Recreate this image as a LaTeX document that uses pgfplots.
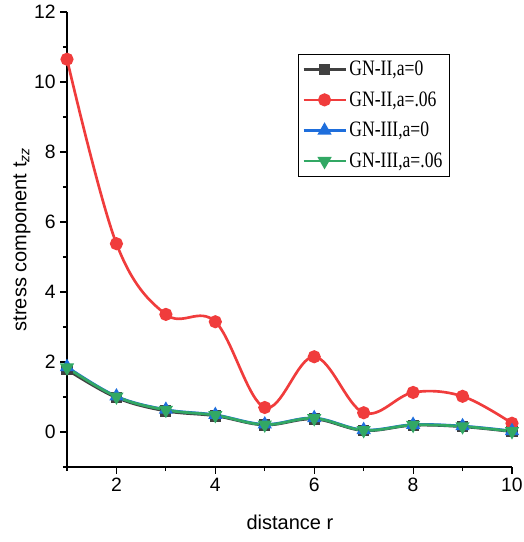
\documentclass[border=0pt]{standalone}
\usepackage{pgfplots}
\pgfplotsset{compat=1.18}
\usepackage{fontspec}
\setmainfont{Liberation Sans}
\newfontfamily\serifleg[FakeStretch=0.8]{Liberation Serif}
\definecolor{cblack}{RGB}{64,64,64}
\definecolor{cred}{RGB}{240,60,60}
\definecolor{cblue}{RGB}{30,110,220}
\definecolor{cgreen}{RGB}{50,168,100}
\begin{document}
\begin{tikzpicture}
\begin{axis}[
  scale only axis,
  width=333.75pt, height=341.25pt,
  xmin=1, xmax=10, ymin=-1, ymax=12,
  axis x line=bottom, axis y line=left,
  axis line style={-, line width=0.8pt},
  xtick={2,4,6,8,10}, minor xtick={1,3,5,7,9},
  ytick={0,2,4,6,8,10,12}, minor ytick={-1,1,3,5,7,9,11},
  tick align=outside,
  major tick length=5pt, minor tick length=3pt,
  tick style={black, line width=0.8pt},
  /pgf/number format/assume math mode=true,
  ticklabel style={font=\fontsize{14.5}{16}\selectfont},
  xlabel={distance r},
  ylabel={stress component t\textsubscript{\textit{zz}}},
  label style={font=\fontsize{15}{17}\selectfont},
  xlabel style={at={(axis description cs:0.501,-0.121)}, anchor=center},
  ylabel style={at={(axis description cs:-0.101,0.5)}, anchor=center},
  clip=false,
  legend style={at={(0.519,0.908)}, anchor=north west, draw=black, line width=0.6pt,
    font=\serifleg\fontsize{16.5}{18}\selectfont, row sep=6.5pt, inner sep=3pt},
  legend cell align=left,
  legend image code/.code={\draw[mark repeat=2,mark phase=2] plot coordinates {(0cm,0cm) (0.55cm,0cm) (1.1cm,0cm)};},
  every axis plot/.append style={line width=2pt, smooth, tension=0.6},
]
\addplot[cblack, mark=square*, mark size=3.2pt, mark options={solid}] coordinates {
(1,1.78) (2,0.98) (3,0.60) (4,0.46) (5,0.20) (6,0.37) (7,0.04) (8,0.19) (9,0.15) (10,0.01)};
\addlegendentry{GN-II,a=0}
\addplot[cred, mark=*, mark size=3.9pt] coordinates {
(1,10.65) (2,5.38) (3,3.36) (4,3.15) (5,0.70) (6,2.15) (7,0.55) (8,1.13) (9,1.02) (10,0.25)};
\addlegendentry{GN-II,a=.06}
\addplot[cblue, mark=triangle*, mark size=4.2pt] coordinates {
(1,1.86) (2,1.02) (3,0.64) (4,0.49) (5,0.22) (6,0.40) (7,0.06) (8,0.21) (9,0.17) (10,0.03)};
\addlegendentry{GN-III,a=0}
\addplot[cgreen, mark=triangle*, mark size=4.2pt, mark options={rotate=180}] coordinates {
(1,1.84) (2,1.01) (3,0.63) (4,0.48) (5,0.21) (6,0.39) (7,0.05) (8,0.20) (9,0.16) (10,0.02)};
\addlegendentry{GN-III,a=.06}
\end{axis}
\pgfresetboundingbox
\path (-50.25pt,-56.25pt) rectangle (342.75pt,350.25pt);
\end{tikzpicture}
\end{document}
